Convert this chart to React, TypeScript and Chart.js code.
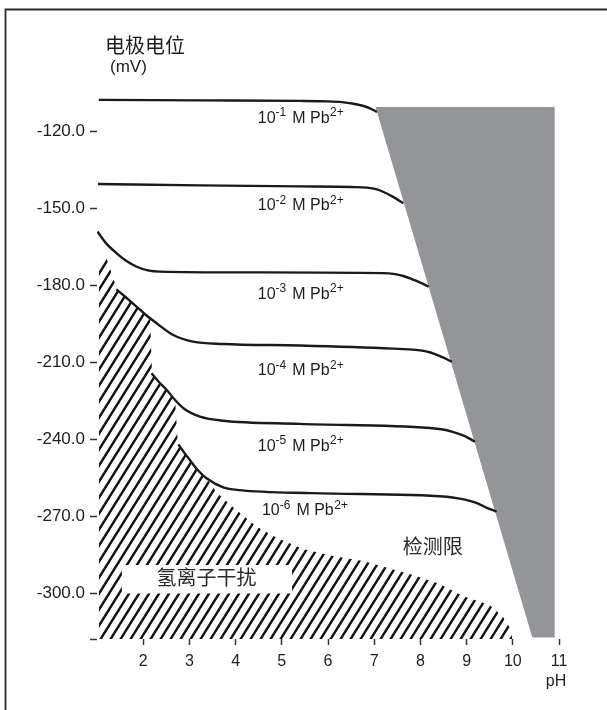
import React, { useEffect, useRef } from 'react';
import { Chart, registerables } from 'chart.js';

Chart.register(...registerables);

// Electrode potential (mV) vs pH for different Pb2+ concentrations: [pH, mV]
const pb1e1: [number, number][] = [[1.04, -107.7], [3.23, -107.9], [5.39, -108.1], [6.0, -108.3], [6.3, -108.6], [6.55, -109.2], [6.75, -110.0], [6.92, -111.1], [7.06, -112.4]];
const pb1e2: [number, number][] = [[1.02, -140.5], [3.23, -141.0], [5.39, -141.4], [6.5, -141.65], [6.84, -141.9], [7.06, -142.6], [7.19, -143.5], [7.40, -145.4], [7.63, -148.0]];
const pb1e3: [number, number][] = [[1.01, -159.0], [1.19, -163.4], [1.42, -167.4], [1.63, -170.4], [1.86, -172.7], [2.10, -174.1], [2.36, -174.6], [4.31, -174.9], [7.19, -175.2], [7.45, -175.6], [7.65, -176.4], [7.85, -177.8], [8.0, -178.9], [8.18, -180.5]];
const pb1e4: [number, number][] = [[1.42, -181.5], [1.63, -184.7], [1.86, -188.3], [2.06, -191.5], [2.29, -194.7], [2.65, -199.3], [3.08, -201.9], [3.73, -202.8], [5.39, -203.4], [7.4, -204.6], [7.9, -205.1], [8.2, -206.0], [8.45, -207.7], [8.68, -209.7]];
const pb1e5: [number, number][] = [[2.18, -214.2], [2.34, -217.6], [2.51, -220.7], [2.69, -224.6], [2.87, -227.8], [3.23, -231.1], [3.73, -232.7], [5.39, -233.9], [8.2, -235.5], [8.49, -236.1], [8.7, -237.0], [8.95, -238.6], [9.18, -240.8]];
const pb1e6: [number, number][] = [[2.76, -241.9], [2.88, -244.9], [3.01, -248.0], [3.18, -251.9], [3.37, -255.1], [3.73, -258.6], [4.09, -259.7], [5.67, -260.9], [8.57, -262.3], [8.85, -263.0], [9.07, -263.9], [9.25, -265.0], [9.45, -266.7], [9.65, -268.1]];

// Upper boundary of the hydrogen-ion interference zone (hatched)
const hydrogenBoundary: [number, number][] = [[1.04, -170.8], [1.19, -168.5], [1.43, -181.4], [1.63, -184.7], [1.86, -188.3], [2.06, -191.5], [2.15, -192.7], [2.19, -214.1], [2.34, -217.6], [2.51, -220.7], [2.69, -224.6], [2.75, -241.7], [2.88, -244.9], [3.01, -248.0], [3.18, -251.9], [3.37, -255.1], [3.60, -260.8], [3.94, -266.3], [4.46, -274.0], [4.89, -278.3], [5.46, -282.6], [6.11, -285.4], [6.76, -287.3], [7.84, -292.8], [8.42, -296.3], [8.92, -301.0], [9.50, -304.5], [9.79, -309.1], [9.94, -313.4], [9.98, -316.9], [9.99, -317.7]];

// Detection limit zone (grey): lower/left edge, filled up to its top value
const detectionEdge: [number, number][] = [[7.04, -110.5], [10.43, -316.9], [10.91, -316.9]];
const detectionTop = -110.5;

// Axes
const xMin = 1;
const xMax = 11;
const yMin = -317.7;
const yMax = -106.2;
const xTickValues = [2, 3, 4, 5, 6, 7, 8, 9, 10, 11];
const yTickValues = [-317.7, -300, -270, -240, -210, -180, -150, -120];
const yTickLabels = ['', '-300.0', '-270.0', '-240.0', '-210.0', '-180.0', '-150.0', '-120.0'];

// Curve labels
const labelExponents = ['-1', '-2', '-3', '-4', '-5', '-6'];
const labelPH = [4.48, 4.48, 4.48, 4.48, 4.48, 4.57];
const labelMV = [-114.5, -148.6, -183.1, -212.9, -242.3, -267.4];

const detectionText = '检测限';
const detectionTextAt: [number, number] = [8.27, -281.7];
const hydrogenText = '氢离子干扰';
const hydrogenTextAt: [number, number] = [3.37, -293.9];
const hydrogenBox: [number, number, number, number] = [1.54, 5.22, -288.9, -300.0];

const yTitle = '电极电位';
const yUnit = '(mV)';
const xTitle = 'pH';

const LATIN = '"Liberation Sans", Arial, Helvetica, sans-serif';
const CJK = '"Noto Sans CJK SC", sans-serif';
const INK = '#1e1e1e';

const toXY = (arr: [number, number][]) => arr.map(([x, y]) => ({ x, y }));

function makeHatch(ctx: CanvasRenderingContext2D) {
  const w = 10;
  const h = 16;
  const c = document.createElement('canvas');
  c.width = w;
  c.height = h;
  const g = c.getContext('2d')!;
  g.strokeStyle = '#111';
  g.lineWidth = 2.4;
  for (let m = -1; m <= 2; m++) {
    g.beginPath();
    g.moveTo(m * w + 0.6 * w, -0.6 * h);
    g.lineTo(m * w - 1.6 * w, 1.6 * h);
    g.stroke();
  }
  return ctx.createPattern(c, 'repeat')!;
}

const annotations = {
  id: 'annotations',
  afterDatasetsDraw(chart: any) {
    const ctx: CanvasRenderingContext2D = chart.ctx;
    const xs = chart.scales.x;
    const ys = chart.scales.y;
    ctx.save();
    ctx.fillStyle = INK;
    ctx.textAlign = 'left';
    ctx.textBaseline = 'alphabetic';
    labelExponents.forEach((e, i) => {
      const px = xs.getPixelForValue(labelPH[i]);
      const base = ys.getPixelForValue(labelMV[i]) + 5.5;
      ctx.font = `16px ${LATIN}`;
      ctx.fillText('10', px, base);
      let x = px + ctx.measureText('10').width;
      ctx.font = `12px ${LATIN}`;
      ctx.fillText(e, x, base - 6.5);
      x += ctx.measureText(e).width + 6;
      ctx.font = `16px ${LATIN}`;
      ctx.fillText('M Pb', x, base);
      x += ctx.measureText('M Pb').width + 0.5;
      ctx.font = `12px ${LATIN}`;
      ctx.fillText('2+', x, base - 6.5);
    });

    // hydrogen interference label with white box
    const bx1 = xs.getPixelForValue(hydrogenBox[0]);
    const bx2 = xs.getPixelForValue(hydrogenBox[1]);
    const by1 = ys.getPixelForValue(hydrogenBox[2]);
    const by2 = ys.getPixelForValue(hydrogenBox[3]);
    ctx.fillStyle = '#ffffff';
    ctx.fillRect(bx1, by1, bx2 - bx1, by2 - by1);
    ctx.fillStyle = '#2a2a2a';
    ctx.font = `20px ${CJK}`;
    ctx.textAlign = 'center';
    ctx.textBaseline = 'middle';
    ctx.fillText(hydrogenText, xs.getPixelForValue(hydrogenTextAt[0]), ys.getPixelForValue(hydrogenTextAt[1]));
    ctx.fillText(detectionText, xs.getPixelForValue(detectionTextAt[0]), ys.getPixelForValue(detectionTextAt[1]));
    ctx.restore();
  },
  afterDraw(chart: any) {
    const ctx: CanvasRenderingContext2D = chart.ctx;
    ctx.save();
    // frame
    ctx.strokeStyle = '#2b2b2b';
    ctx.lineWidth = 1.8;
    ctx.beginPath();
    ctx.moveTo(5.5, 712);
    ctx.lineTo(5.5, 9.5);
    ctx.lineTo(610, 9.5);
    ctx.stroke();
    // axis titles
    ctx.fillStyle = INK;
    ctx.textAlign = 'left';
    ctx.textBaseline = 'middle';
    ctx.font = `20px ${CJK}`;
    ctx.fillText(yTitle, 105, 45);
    ctx.font = `17px ${LATIN}`;
    ctx.fillText(yUnit, 110, 67);
    ctx.textAlign = 'center';
    ctx.font = `16px ${LATIN}`;
    ctx.fillText(xTitle, 556, 682);
    ctx.restore();
  },
};

export default function App() {
  const ref = useRef<HTMLCanvasElement>(null);
  useEffect(() => {
    document.body.style.margin = '0';
    const canvas = ref.current!;
    const ctx = canvas.getContext('2d')!;
    const hatch = makeHatch(ctx);
    const curves = [pb1e1, pb1e2, pb1e3, pb1e4, pb1e5, pb1e6];
    const chart = new Chart(ctx, {
      type: 'line',
      data: {
        datasets: [
          ...curves.map((c, i) => ({
            label: `1e${labelExponents[i]}`,
            data: toXY(c),
            borderColor: '#1a1a1a',
            borderWidth: 2.4,
            pointRadius: 0,
            fill: false,
            cubicInterpolationMode: 'monotone' as const,
          })),
          {
            label: 'hydrogen',
            data: toXY(hydrogenBoundary),
            borderColor: 'rgba(0,0,0,0)',
            borderWidth: 0,
            backgroundColor: hatch,
            pointRadius: 0,
            fill: 'start',
            tension: 0,
          },
          {
            label: 'limit',
            data: toXY(detectionEdge),
            borderColor: '#939598',
            borderWidth: 1,
            backgroundColor: '#939598',
            pointRadius: 0,
            fill: { value: detectionTop },
            tension: 0,
          },
        ],
      },
      options: {
        animation: false,
        responsive: false,
        events: [],
        layout: { padding: { left: 0, top: 96, right: 48, bottom: 0 } },
        plugins: { legend: { display: false }, tooltip: { enabled: false } },
        scales: {
          x: {
            type: 'linear',
            min: xMin,
            max: xMax,
            afterBuildTicks: (s: any) => { s.ticks = xTickValues.map((v) => ({ value: v })); },
            afterFit: (s: any) => { s.height = 71; },
            border: { display: false },
            grid: { display: true, drawOnChartArea: false, drawTicks: true, tickLength: 6, tickColor: '#333', tickWidth: 1.5 },
            ticks: { autoSkip: false, maxRotation: 0, padding: 7, color: INK, font: { family: LATIN, size: 16 }, callback: (v: any) => String(v) },
          },
          y: {
            type: 'linear',
            min: yMin,
            max: yMax,
            afterBuildTicks: (s: any) => { s.ticks = yTickValues.map((v) => ({ value: v })); },
            afterFit: (s: any) => { s.width = 97; },
            border: { display: false },
            grid: { display: true, drawOnChartArea: false, drawTicks: true, tickLength: 7, tickColor: '#333', tickWidth: 1.5 },
            ticks: {
              autoSkip: false,
              padding: 5,
              color: INK,
              font: { family: LATIN, size: 17 },
              callback: (v: any) => { const i = yTickValues.indexOf(Number(v)); return i >= 0 ? yTickLabels[i] : ''; },
            },
          },
        },
      },
      plugins: [annotations],
    } as any);
    return () => chart.destroy();
  }, []);
  return (
    <div style={{ width: 607, height: 710, position: 'relative', overflow: 'hidden', background: '#fff' }}>
      <canvas ref={ref} width={607} height={710} style={{ display: 'block', width: 607, height: 710 }} />
    </div>
  );
}
